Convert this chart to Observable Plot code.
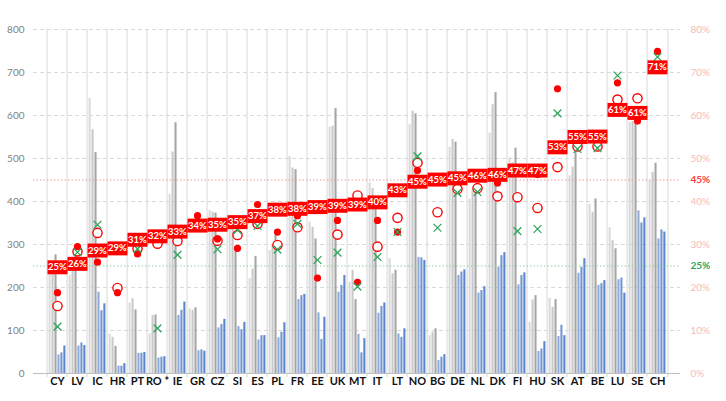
<!DOCTYPE html>
<html><head><meta charset="utf-8">
<script src="https://cdn.jsdelivr.net/npm/d3@7"></script>
<script src="https://cdn.jsdelivr.net/npm/@observablehq/plot@0.6"></script>
<style>
body{margin:0;background:#fff;}
#chart{width:726px;height:401px;}
svg{font-family:Lato,"Open Sans",sans-serif;}
</style>
</head><body><div id="chart"></div>
<script>
const countries = ["CY","LV","IC","HR","PT","RO *","IE","GR","CZ","SI","ES","PL","FR","EE","UK","MT","IT","LT","NO","BG","DE","NL","DK","FI","HU","SK","AT","BE","LU","SE","CH"];

// grey series (left axis)
const grey1 = [245,228,640,91,164,92,416,150,379,355,220,286,505,352,573,212,443,267,579,88,526,405,559,502,119,175,460,393,339,584,448];
const grey2 = [255,240,567,84,174,135,515,147,375,335,243,298,478,340,575,240,430,232,610,96,544,425,625,490,171,154,480,375,309,586,468];
const grey3 = [276,283,514,63,148,136,583,153,373,295,272,321,474,313,616,172,400,240,604,104,538,432,653,524,181,172,525,406,290,585,489];
// blue series (left axis)
const blue1 = [43,64,189,17,47,36,135,53,106,109,78,83,172,141,189,91,140,92,270,30,228,187,247,206,51,86,233,205,218,378,313];
const blue2 = [48,71,146,17,47,38,147,55,114,102,88,96,181,79,205,48,156,84,269,38,236,193,274,228,57,112,247,209,222,350,334];
const blue3 = [64,65,162,23,49,39,166,52,126,119,88,118,184,131,228,81,164,104,263,44,241,202,281,234,74,88,267,216,187,362,329];

// markers (right axis, %)
const filledDot = [18.8,29.5,25.9,18.8,27.8,null,null,36.7,31.3,29.1,39.3,32.9,36.7,22.2,35.6,21.2,35.6,32.9,47.2,null,null,null,44.3,null,46.3,66.2,null,null,67.6,58.7,74.9];
const openCircle = [15.7,28.4,32.7,19.9,29.0,30.2,30.8,null,30.9,32.2,34.8,29.9,34.0,null,32.3,41.4,29.5,36.2,49.0,37.5,42.9,43.1,41.2,41.0,38.5,48.0,52.8,52.8,63.7,64.0,null];
const greenX = [10.9,28.2,34.6,null,29.0,10.5,27.6,null,28.9,33.4,34.3,28.8,34.8,26.4,28.1,20.2,27.1,32.9,50.5,33.9,42.0,42.2,null,33.1,33.6,60.5,52.2,52.4,69.3,null,73.6];
// red label values (%)
const labelVals = [24.7,25.5,28.6,29.1,31.1,31.9,33.0,34.4,34.6,35.2,36.6,38.1,38.3,38.7,39.0,39.3,39.8,42.6,44.6,45.1,45.4,46.0,46.2,47.2,47.2,52.6,55.0,55.1,61.3,60.6,71.2];

const leftTicks = [0,100,200,300,400,500,600,700,800];
const rightTicks = [0,10,20,30,40,50,60,70,80];
const refLines = [{v:45, label:"45%", color:"#ff3b3b", line:"#ee9a9a"},{v:25, label:"25%", color:"#2fa55a", line:"#8fd0a3"}];

const W = 726, H = 401, mL = 33, mR = 46, mT = 29, mB = 28;
const bw = (W - mL - mR) / countries.length;
const barW = 2.95;
const pad = (bw - 6 * barW) / 2;
const series = [
  {vals: grey1, color: "#dadada"},
  {vals: grey2, color: "#c9c9c9"},
  {vals: grey3, color: "#a5a5a5"},
  {vals: blue1, color: "#8eaadb"},
  {vals: blue2, color: "#7097d4"},
  {vals: blue3, color: "#5b86cb"}
];
const barMarks = series.map((s, k) => Plot.barY(
  countries.map((c, i) => ({c, v: s.vals[i]})),
  {x: "c", y: "v", fill: s.color, insetLeft: pad + k * barW, insetRight: bw - pad - (k + 1) * barW}
));
const pts = (arr) => countries.map((c, i) => ({c, v: arr[i]})).filter(d => d.v != null);
const boxSymbol = {draw(ctx) { ctx.moveTo(-10, -7); ctx.lineTo(10, -7); ctx.lineTo(10, 7); ctx.lineTo(-10, 7); ctx.closePath(); }};
const labelRows = pts(labelVals);

const chart = Plot.plot({
  width: W, height: H,
  marginLeft: mL, marginRight: mR, marginTop: mT, marginBottom: mB,
  x: {domain: countries, padding: 0, axis: null},
  y: {domain: [0, 800], axis: null},
  style: {fontFamily: "Lato, 'Open Sans', sans-serif", background: "#fff"},
  marks: [
    Plot.ruleY(leftTicks.slice(1), {stroke: "#d9d9d9", strokeDasharray: "4,3"}),
    Plot.ruleX(countries, {x: d => d, dx: -bw / 2, stroke: "#d9d9d9", insetBottom: -4}),
    Plot.ruleX(countries.slice(-1), {x: d => d, dx: bw / 2, stroke: "#d9d9d9", insetBottom: -4}),
    ...barMarks,
    Plot.ruleY([0], {stroke: "#bfbfbf"}),
    ...refLines.map(r => Plot.ruleY([r.v], {y: d => d * 10, stroke: r.line, strokeDasharray: "1.5,2", strokeWidth: 1.2})),
    Plot.dot(pts(openCircle), {x: "c", y: d => d.v * 10, r: 4.6, stroke: "#ff0000", strokeWidth: 1.4, fill: "#fff"}),
    Plot.dot(pts(filledDot), {x: "c", y: d => d.v * 10, r: 3.6, fill: "#ff0000"}),
    Plot.dot(pts(greenX), {x: "c", y: d => d.v * 10, r: 3.6, symbol: "times", stroke: "#2ea55c", strokeWidth: 1.3}),
    Plot.dot(labelRows, {x: "c", y: d => d.v * 10, symbol: boxSymbol, fill: "#ff0000", r: 1}),
    Plot.text(labelRows, {x: "c", y: d => d.v * 10, text: d => Math.round(d.v) + "%", fill: "#fff", fontWeight: "bold", fontSize: 9.5}),
    Plot.text(leftTicks, {y: d => d, text: d => String(d), frameAnchor: "left", dx: -9, textAnchor: "end", fill: "#7f7f7f", fontSize: 10}),
    Plot.text(rightTicks, {y: d => d * 10, text: d => d + "%", frameAnchor: "right", dx: 10, textAnchor: "start", fill: "#f5baba", fontSize: 10}),
    ...refLines.map(r => Plot.text([r.v], {y: d => d * 10, text: () => r.label, frameAnchor: "right", dx: 10, textAnchor: "start", fill: r.color, fontWeight: "bold", fontSize: 10})),
    Plot.text(countries, {x: d => d, text: d => d, frameAnchor: "bottom", dy: 11, fill: "#111", fontWeight: "bold", fontSize: 11})
  ]
});
document.getElementById("chart").appendChild(chart);
</script>
</body></html>
